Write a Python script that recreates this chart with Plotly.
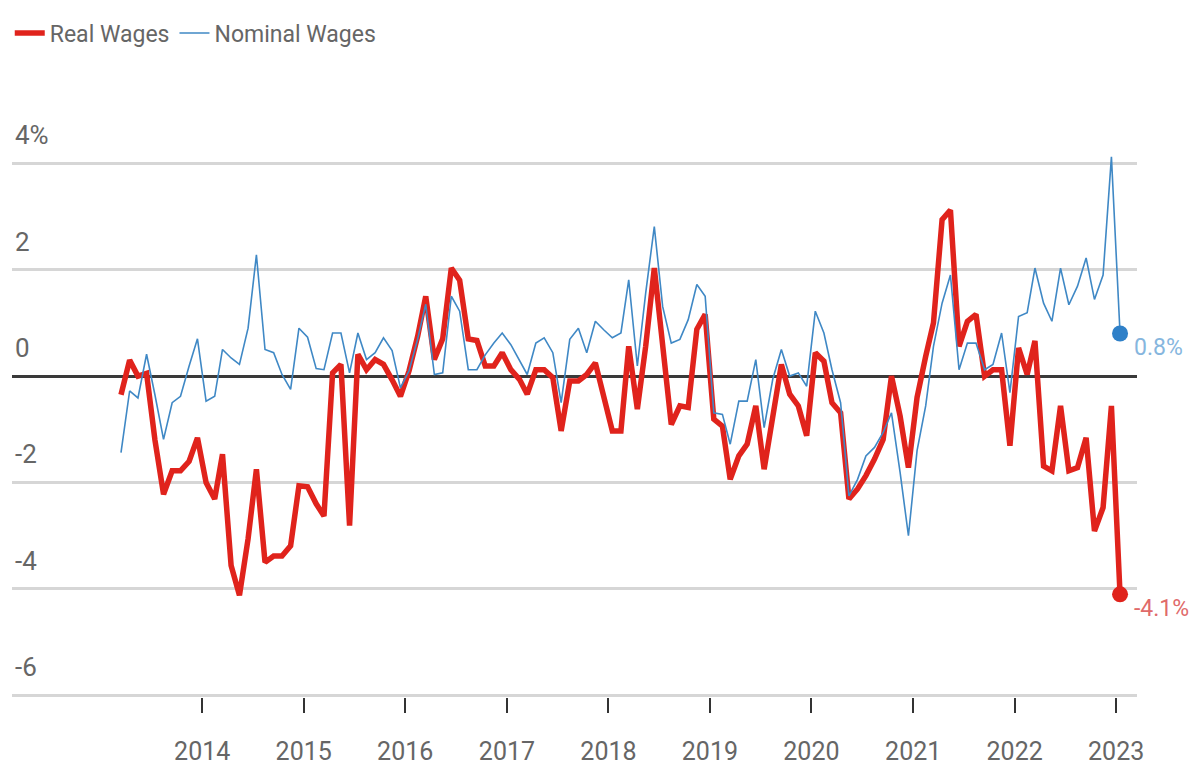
import pandas as pd
import plotly.graph_objects as go

# Monthly observations, March 2013 - January 2023 (plotted mid-month)
months = pd.date_range("2013-03-01", "2023-01-01", freq="MS")
dates = [d.strftime("%Y-%m-15") for d in months]

real_wages = [
    -0.35, 0.30, 0.00, 0.05, -1.20, -2.22, -1.78, -1.78, -1.60, -1.16,
    -2.00, -2.31, -1.47, -3.56, -4.12, -3.06, -1.75, -3.50, -3.38, -3.38,
    -3.19, -2.06, -2.08, -2.40, -2.63, 0.06, 0.22, -2.81, 0.41, 0.12,
    0.31, 0.22, -0.07, -0.38, 0.10, 0.75, 1.50, 0.31, 0.70, 2.03,
    1.80, 0.70, 0.67, 0.19, 0.19, 0.44, 0.12, -0.06, -0.34, 0.12,
    0.12, -0.03, -1.03, -0.09, -0.09, 0.03, 0.25, -0.35, -1.03, -1.03,
    0.56, -0.62, 0.56, 2.03, 0.69, -0.91, -0.56, -0.59, 0.88, 1.16,
    -0.81, -0.94, -1.94, -1.50, -1.28, -0.56, -1.75, -0.81, 0.22, -0.34,
    -0.56, -1.12, 0.44, 0.28, -0.50, -0.69, -2.31, -2.12, -1.87, -1.56,
    -1.19, 0.00, -0.75, -1.72, -0.40, 0.37, 1.00, 2.94, 3.12, 0.56,
    1.03, 1.16, 0.00, 0.12, 0.12, -1.31, 0.53, 0.03, 0.66, -1.69,
    -1.78, -0.56, -1.78, -1.72, -1.16, -2.91, -2.47, -0.56, -4.10,
]

nominal_wages = [
    -1.44, -0.28, -0.41, 0.41, -0.35, -1.19, -0.50, -0.38, 0.19, 0.70,
    -0.47, -0.38, 0.50, 0.34, 0.22, 0.90, 2.28, 0.50, 0.44, 0.03,
    -0.25, 0.90, 0.73, 0.14, 0.12, 0.81, 0.81, 0.06, 0.81, 0.31,
    0.44, 0.72, 0.48, -0.22, 0.10, 0.70, 1.35, 0.03, 0.06, 1.50,
    1.22, 0.12, 0.12, 0.40, 0.62, 0.81, 0.59, 0.28, 0.03, 0.62,
    0.72, 0.44, -0.50, 0.69, 0.90, 0.44, 1.03, 0.87, 0.72, 0.81,
    1.81, 0.19, 1.56, 2.81, 1.31, 0.62, 0.69, 1.06, 1.72, 1.50,
    -0.69, -0.72, -1.28, -0.47, -0.47, 0.31, -0.97, -0.06, 0.50, 0.00,
    0.06, -0.19, 1.22, 0.81, 0.12, -0.50, -2.25, -1.94, -1.50, -1.34,
    -1.06, -0.69, -1.81, -3.00, -1.40, -0.56, 0.56, 1.37, 1.90, 0.12,
    0.62, 0.62, 0.12, 0.22, 0.81, -0.31, 1.12, 1.19, 2.03, 1.37,
    1.03, 2.03, 1.34, 1.69, 2.22, 1.44, 1.90, 4.12, 0.80,
]

year_ticks = ["2014", "2015", "2016", "2017", "2018", "2019", "2020", "2021", "2022", "2023"]
y_ticks = [-6, -4, -2, 0, 2, 4]
y_tick_text = ["-6", "-4", "-2", "0", "2", "4%"]

RED = "#e0231c"
BLUE = "#3f88c5"
FONT = "Roboto, sans-serif"
GRAY = "#666666"

fig = go.Figure()
fig.add_trace(go.Scatter(
    x=dates, y=real_wages, mode="lines", name="Real Wages",
    line=dict(color=RED, width=5.5), cliponaxis=False,
))
fig.add_trace(go.Scatter(
    x=dates, y=nominal_wages, mode="lines", name="Nominal Wages",
    line=dict(color=BLUE, width=1.6), cliponaxis=False,
))
# end markers
fig.add_trace(go.Scatter(
    x=[dates[-1]], y=[real_wages[-1]], mode="markers", showlegend=False,
    marker=dict(color=RED, size=16), cliponaxis=False,
))
fig.add_trace(go.Scatter(
    x=[dates[-1]], y=[nominal_wages[-1]], mode="markers", showlegend=False,
    marker=dict(color="#2f80c8", size=16), cliponaxis=False,
))

fig.add_annotation(
    x=dates[-1], y=nominal_wages[-1], text=f"{nominal_wages[-1]:.1f}%",
    xanchor="left", yanchor="middle", xshift=12, yshift=-14, showarrow=False,
    font=dict(family=FONT, size=23, color="#86b6de"),
)
fig.add_annotation(
    x=dates[-1], y=real_wages[-1], text=f"{real_wages[-1]:.1f}%",
    xanchor="left", yanchor="middle", xshift=12, yshift=-14, showarrow=False,
    font=dict(family=FONT, size=23, color="#e06a6a"),
)

fig.update_layout(
    width=1201, height=776,
    margin=dict(l=4, r=72, t=102, b=87, autoexpand=False),
    paper_bgcolor="white", plot_bgcolor="white",
    font=dict(family=FONT, color=GRAY),
    legend=dict(
        orientation="h", x=-0.002, y=1.131, xanchor="left", yanchor="middle",
        font=dict(family=FONT, size=23, color=GRAY), itemwidth=30,
        bgcolor="rgba(0,0,0,0)",
    ),
    xaxis=dict(
        type="date",
        range=["2012-02-17", "2023-03-17"],
        tickvals=[f"{y}-01-01" for y in year_ticks],
        ticktext=year_ticks,
        showgrid=False, zeroline=False, showline=False,
        ticks="outside", ticklen=15, tickwidth=2, tickcolor="#333333",
        tickfont=dict(family=FONT, size=25, color=GRAY),
        ticklabelstandoff=17, automargin=False,
    ),
    yaxis=dict(
        range=[-6.03, 5],
        tickvals=y_ticks, ticktext=y_tick_text,
        showgrid=True, gridcolor="#d6d6d6", gridwidth=3,
        zeroline=True, zerolinecolor="#3a3a3a", zerolinewidth=3,
        showline=False, ticks="",
        ticklabelposition="inside top", ticklabelshift=-10,
        tickfont=dict(family=FONT, size=26, color=GRAY),
        automargin=False,
    ),
)

fig.write_html("out.html")
